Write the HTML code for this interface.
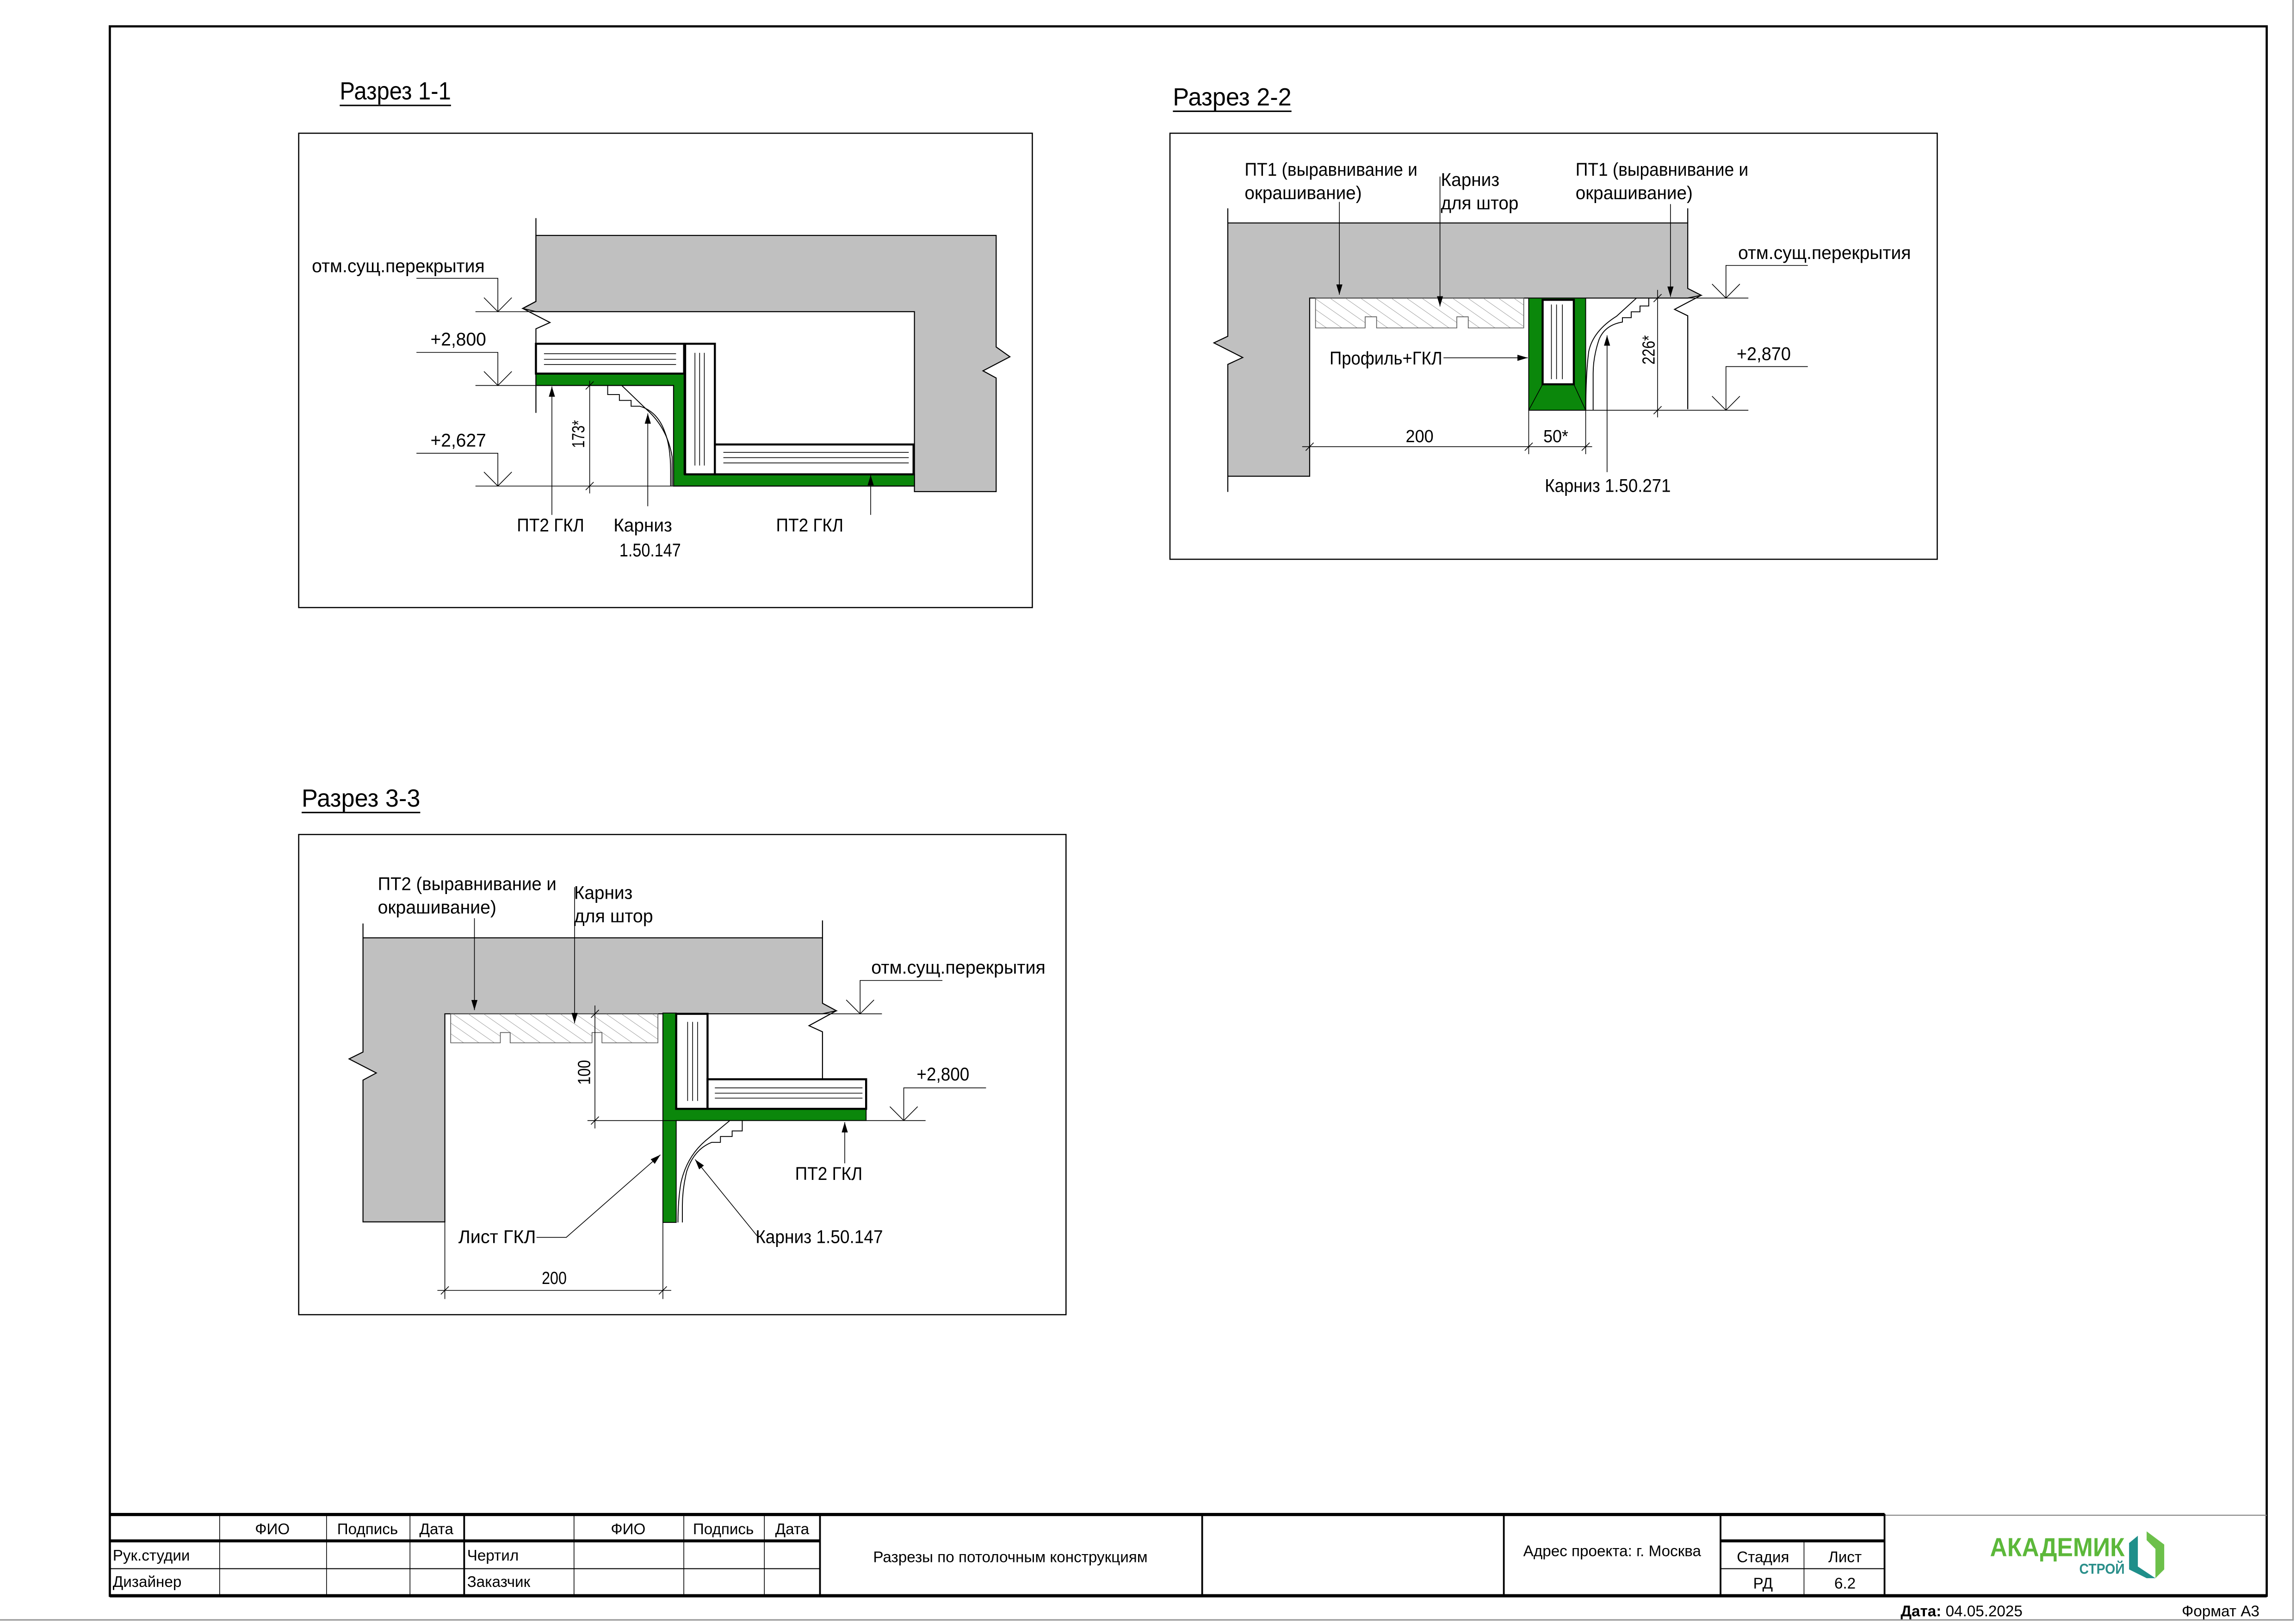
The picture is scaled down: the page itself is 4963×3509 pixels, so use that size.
<!DOCTYPE html>
<html><head><meta charset="utf-8"><style>
html,body{margin:0;padding:0;background:#fff}
svg{display:block}
text{font-family:"Liberation Sans Narrow","Liberation Sans",sans-serif;fill:#000}
</style></head><body>
<svg width="4963" height="3509" viewBox="0 0 1568 1108.6" preserveAspectRatio="none" xmlns="http://www.w3.org/2000/svg">
<defs>
<pattern id="h" patternUnits="userSpaceOnUse" width="6" height="6" patternTransform="rotate(-55)">
<line x1="0" y1="0" x2="0" y2="6" stroke="#999" stroke-width="0.6"/></pattern>
<marker id="a" viewBox="0 0 10 10" refX="10" refY="5" markerWidth="7" markerHeight="7" orient="auto" markerUnits="userSpaceOnUse"><path d="M0,2 L10,5 L0,8 z" fill="#000"/></marker>
</defs>
<rect x="0" y="0" width="1568" height="1108.6" fill="#fff"/>
<path d="M0,1106.5 H1566 V0" fill="none" stroke="#999" stroke-width="1"/>
<rect x="75" y="18" width="1473" height="1072" fill="none" stroke="#000" stroke-width="1.5"/>

<!-- ============ Section 1-1 ============ -->
<text x="232" y="68" font-size="17" textLength="76" lengthAdjust="spacingAndGlyphs">Разрез 1-1</text>
<line x1="232" y1="72" x2="308" y2="72" stroke="#000" stroke-width="1"/>
<rect x="204" y="91" width="501" height="324" fill="none" stroke="#000" stroke-width="0.8"/>
<polygon points="366,160.8 680.3,160.8 680.3,237 689.7,243.7 671.3,253.3 680.3,258.2 680.3,335.8 624.5,335.8 624.5,212.9 366,212.9 357,210.7 366,205.9" fill="#c0c0c0" stroke="#000" stroke-width="0.7"/>
<polyline points="366,149 366,205.9 357,210.7 375.6,220.3 366,224.6 366,282" fill="none" stroke="#000" stroke-width="0.7"/>
<!-- green -->
<path d="M366,255.4 H467.2 V324 H624.5 V332 H460 V263.3 H366 z" fill="#0b870b" stroke="#000" stroke-width="0.7"/>
<!-- boxes -->
<rect x="366" y="234.8" width="101.2" height="20.4" fill="#fff" stroke="#000" stroke-width="1.4"/>
<g stroke="#000" stroke-width="0.5"><line x1="371.5" y1="241.6" x2="461.7" y2="241.6"/><line x1="371.5" y1="245.4" x2="461.7" y2="245.4"/><line x1="371.5" y1="249" x2="461.7" y2="249"/></g>
<rect x="467.9" y="234.8" width="20.3" height="89.2" fill="#fff" stroke="#000" stroke-width="1.4"/>
<g stroke="#000" stroke-width="0.5"><line x1="474.6" y1="241" x2="474.6" y2="318"/><line x1="477.8" y1="241" x2="477.8" y2="318"/><line x1="481" y1="241" x2="481" y2="318"/></g>
<rect x="488.2" y="303.6" width="135.7" height="20.4" fill="#fff" stroke="#000" stroke-width="1.4"/>
<g stroke="#000" stroke-width="0.5"><line x1="494" y1="309" x2="620.6" y2="309"/><line x1="494" y1="312.6" x2="620.6" y2="312.6"/><line x1="494" y1="316.2" x2="620.6" y2="316.2"/></g>
<!-- cornice -->
<path d="M415,263.3 V269.5 H423 V273.5 H431 V277.5 H437 Q449,281 454,295 Q458,305 458,322 V332" fill="none" stroke="#000" stroke-width="0.6"/>
<path d="M424.6,263.3 L444,282 Q456,294 459,312 V332" fill="none" stroke="#000" stroke-width="0.6"/>
<!-- levels -->
<g stroke="#000" stroke-width="0.5" fill="none">
<line x1="324.7" y1="212.9" x2="366" y2="212.9"/><polyline points="284.4,190.1 340,190.1 340,212.9"/><polyline points="330.5,203.3 340,212.9 349.5,203.3"/>
<line x1="324.7" y1="263.3" x2="366" y2="263.3"/><polyline points="284.4,240.7 340,240.7 340,263.3"/><polyline points="330.5,253.7 340,263.3 349.5,253.7"/>
<line x1="324.7" y1="332" x2="460" y2="332"/><polyline points="284.4,309.6 340,309.6 340,332"/><polyline points="330.5,322.4 340,332 349.5,322.4"/>
<line x1="402.7" y1="260" x2="402.7" y2="337"/>
<line x1="400" y1="266" x2="405.4" y2="260.6"/><line x1="400" y1="334.7" x2="405.4" y2="329.3"/>
<line x1="376.9" y1="351.7" x2="376.9" y2="264" marker-end="url(#a)"/>
<line x1="442.4" y1="345.8" x2="442.4" y2="282.4" marker-end="url(#a)"/>
<line x1="594.6" y1="351.7" x2="594.6" y2="324.5" marker-end="url(#a)"/>
</g>
<text x="213" y="186" font-size="12.5" textLength="118" lengthAdjust="spacingAndGlyphs">отм.сущ.перекрытия</text>
<text x="294" y="236" font-size="12.5" textLength="38" lengthAdjust="spacingAndGlyphs">+2,800</text>
<text x="294" y="305" font-size="12.5" textLength="38" lengthAdjust="spacingAndGlyphs">+2,627</text>
<text transform="translate(399,306) rotate(-90)" font-size="12" textLength="19" lengthAdjust="spacingAndGlyphs">173*</text>
<text x="353" y="363" font-size="12.5" textLength="46" lengthAdjust="spacingAndGlyphs">ПТ2 ГКЛ</text>
<text x="419" y="363" font-size="12.5" textLength="40" lengthAdjust="spacingAndGlyphs">Карниз</text>
<text x="423" y="380" font-size="12.5" textLength="42" lengthAdjust="spacingAndGlyphs">1.50.147</text>
<text x="530" y="363" font-size="12.5" textLength="46" lengthAdjust="spacingAndGlyphs">ПТ2 ГКЛ</text>

<!-- ============ Section 2-2 ============ -->
<text x="801" y="72" font-size="17" textLength="81" lengthAdjust="spacingAndGlyphs">Разрез 2-2</text>
<line x1="801" y1="76" x2="882" y2="76" stroke="#000" stroke-width="1"/>
<rect x="799" y="91" width="524" height="291" fill="none" stroke="#000" stroke-width="0.8"/>
<polygon points="838.5,152.3 1152.6,152.3 1152.6,197 1161.8,201.7 1152.6,203.6 894.4,203.6 894.4,325.3 838.5,325.3 838.5,248.9 848.7,244.2 829,234.2 838.5,229.7" fill="#c0c0c0" stroke="#000" stroke-width="0.7"/>
<g stroke="#000" stroke-width="0.7" fill="none">
<line x1="838.5" y1="142.3" x2="838.5" y2="152.3"/><line x1="838.5" y1="325.3" x2="838.5" y2="336"/>
<line x1="1152.6" y1="142.3" x2="1152.6" y2="152.3"/>
<polyline points="1161.8,201.7 1143.6,211.3 1152.6,215.7 1152.6,279.5"/>
</g>
<path d="M898.4,203.6 H1040.6 V224 H1002.7 V216.4 H994.9 V224 H940.1 V216.4 H932.3 V224 H898.4 z" fill="url(#h)" stroke="#555" stroke-width="0.5"/>
<path d="M1044,203.6 H1082.9 V280.2 H1044 z" fill="#0b870b" stroke="#000" stroke-width="0.6"/>
<path d="M1053.5,262.5 L1044,280.2 M1074.8,262.5 L1082.9,280.2" stroke="#000" stroke-width="0.5"/>
<rect x="1053.5" y="204.8" width="21.3" height="57.7" fill="#fff" stroke="#000" stroke-width="1.4"/>
<g stroke="#000" stroke-width="0.5"><line x1="1059.5" y1="208" x2="1059.5" y2="259"/><line x1="1063" y1="208" x2="1063" y2="259"/><line x1="1067" y1="208" x2="1067" y2="259"/></g>
<path d="M1126,203.6 V209 H1120 V213 H1114 V217 H1108 V220 Q1096,222 1092,232 Q1088,244 1088,255 V280" fill="none" stroke="#000" stroke-width="0.6"/>
<path d="M1117.6,203.6 L1104,216 Q1088,226 1085,240 Q1083,255 1083,280" fill="none" stroke="#000" stroke-width="0.6"/>
<g stroke="#000" stroke-width="0.5" fill="none">
<line x1="1152.6" y1="203.6" x2="1194" y2="203.6"/><polyline points="1234.6,181.3 1178.7,181.3 1178.7,203.6"/><polyline points="1169.2,194 1178.7,203.6 1188.2,194"/>
<line x1="1082.9" y1="280.2" x2="1194" y2="280.2"/><polyline points="1234.6,250.4 1178.7,250.4 1178.7,280.2"/><polyline points="1169.2,270.6 1178.7,280.2 1188.2,270.6"/>
<line x1="1132" y1="198" x2="1132" y2="285.1"/>
<line x1="1129.3" y1="206.3" x2="1134.7" y2="200.9"/><line x1="1129.3" y1="282.9" x2="1134.7" y2="277.5"/>
<line x1="889.3" y1="305.1" x2="1087.3" y2="305.1"/>
<line x1="1044" y1="280.2" x2="1044" y2="310.2"/><line x1="1082.9" y1="280.2" x2="1082.9" y2="310.2"/>
<line x1="891.7" y1="307.8" x2="897.1" y2="302.4"/><line x1="1041.3" y1="307.8" x2="1046.7" y2="302.4"/><line x1="1080.2" y1="307.8" x2="1085.6" y2="302.4"/>
<line x1="914.7" y1="137.9" x2="914.7" y2="201.3" marker-end="url(#a)"/>
<line x1="983.4" y1="120.6" x2="983.4" y2="209.3" marker-end="url(#a)"/>
<line x1="1140.8" y1="139.4" x2="1140.8" y2="202.7" marker-end="url(#a)"/>
<line x1="985.8" y1="244.4" x2="1043.3" y2="244.4" marker-end="url(#a)"/>
<line x1="1097.5" y1="322.5" x2="1097.5" y2="229.1" marker-end="url(#a)"/>
</g>
<text x="850" y="120" font-size="12.5" textLength="118" lengthAdjust="spacingAndGlyphs">ПТ1 (выравнивание и</text>
<text x="850" y="136" font-size="12.5" textLength="80" lengthAdjust="spacingAndGlyphs">окрашивание)</text>
<text x="984" y="127" font-size="12.5" textLength="40" lengthAdjust="spacingAndGlyphs">Карниз</text>
<text x="984" y="143" font-size="12.5" textLength="53" lengthAdjust="spacingAndGlyphs">для штор</text>
<text x="1076" y="120" font-size="12.5" textLength="118" lengthAdjust="spacingAndGlyphs">ПТ1 (выравнивание и</text>
<text x="1076" y="136" font-size="12.5" textLength="80" lengthAdjust="spacingAndGlyphs">окрашивание)</text>
<text x="1187" y="177" font-size="12.5" textLength="118" lengthAdjust="spacingAndGlyphs">отм.сущ.перекрытия</text>
<text x="1186" y="246" font-size="12.5" textLength="37" lengthAdjust="spacingAndGlyphs">+2,870</text>
<text x="908" y="249" font-size="12.5" textLength="77" lengthAdjust="spacingAndGlyphs">Профиль+ГКЛ</text>
<text transform="translate(1130,249) rotate(-90)" font-size="12" textLength="20" lengthAdjust="spacingAndGlyphs">226*</text>
<text x="960" y="302" font-size="12" textLength="19" lengthAdjust="spacingAndGlyphs">200</text>
<text x="1054" y="302" font-size="12" textLength="17" lengthAdjust="spacingAndGlyphs">50*</text>
<text x="1055" y="336" font-size="12.5" textLength="86" lengthAdjust="spacingAndGlyphs">Карниз 1.50.271</text>

<!-- ============ Section 3-3 ============ -->
<text x="206" y="551" font-size="17" textLength="81" lengthAdjust="spacingAndGlyphs">Разрез 3-3</text>
<line x1="206" y1="555" x2="287" y2="555" stroke="#000" stroke-width="1"/>
<rect x="204" y="570" width="524" height="328" fill="none" stroke="#000" stroke-width="0.8"/>
<polygon points="247.9,640.6 561.7,640.6 561.7,685.3 571.2,690.4 561.7,692.5 303.8,692.5 303.8,834.6 247.9,834.6 247.9,737.8 257,732.9 238.4,723.3 247.9,718.6" fill="#c0c0c0" stroke="#000" stroke-width="0.7"/>
<g stroke="#000" stroke-width="0.7" fill="none">
<line x1="247.9" y1="630.8" x2="247.9" y2="640.6"/><line x1="561.7" y1="628.7" x2="561.7" y2="640.6"/>
<polyline points="571.2,690.4 552.5,700.6 561.7,704.8 561.7,757.6"/>
</g>
<path d="M307.8,692.5 H449.3 V712.3 H411.1 V705.3 H404.3 V712.3 H348.4 V705.3 H341.7 V712.3 H307.8 z" fill="url(#h)" stroke="#555" stroke-width="0.5"/>
<path d="M452.7,692 H461.8 V757.4 H591.5 V765.4 H461.8 V835 H452.7 z" fill="#0b870b" stroke="#000" stroke-width="0.6"/>
<rect x="461.8" y="692.5" width="21.4" height="64.9" fill="#fff" stroke="#000" stroke-width="1.4"/>
<g stroke="#000" stroke-width="0.5"><line x1="469.6" y1="698" x2="469.6" y2="752"/><line x1="473" y1="698" x2="473" y2="752"/><line x1="476.4" y1="698" x2="476.4" y2="752"/></g>
<rect x="483.2" y="737.2" width="108.3" height="20.2" fill="#fff" stroke="#000" stroke-width="1.4"/>
<g stroke="#000" stroke-width="0.5"><line x1="488.2" y1="743.1" x2="589" y2="743.1"/><line x1="488.2" y1="746.7" x2="589" y2="746.7"/><line x1="488.2" y1="750.1" x2="589" y2="750.1"/></g>
<path d="M506.9,765.4 V772.5 H500 V776.3 H492 V780.3 H486 Q474,785 469,800 Q466,812 466,824 V835" fill="none" stroke="#000" stroke-width="0.6"/>
<path d="M498.4,765.4 L482,779 Q469,790 465,808 Q463,820 463,835" fill="none" stroke="#000" stroke-width="0.6"/>
<g stroke="#000" stroke-width="0.5" fill="none">
<line x1="561.7" y1="692.5" x2="602.3" y2="692.5"/><polyline points="643.6,669.7 587.4,669.7 587.4,692.5"/><polyline points="577.9,683 587.4,692.5 596.9,683"/>
<line x1="401.2" y1="765.4" x2="632.1" y2="765.4"/><polyline points="673.4,743.1 617.2,743.1 617.2,765.4"/><polyline points="607.7,755.9 617.2,765.4 626.7,755.9"/>
<line x1="406.3" y1="686.8" x2="406.3" y2="770.8"/>
<line x1="403.6" y1="695.2" x2="409" y2="689.8"/><line x1="403.6" y1="768.1" x2="409" y2="762.7"/>
<line x1="303.8" y1="834.6" x2="303.8" y2="887.3"/><line x1="452.7" y1="835" x2="452.7" y2="887.3"/>
<line x1="298.7" y1="881.4" x2="458.4" y2="881.4"/>
<line x1="301.1" y1="884.1" x2="306.5" y2="878.7"/><line x1="450" y1="884.1" x2="455.4" y2="878.7"/>
<line x1="324" y1="627.2" x2="324" y2="690" marker-end="url(#a)"/>
<line x1="392.4" y1="606" x2="392.4" y2="698.9" marker-end="url(#a)"/>
<polyline points="366.4,845.2 386.7,845.2 451,788.8" marker-end="url(#a)"/>
<polyline points="517,844.1 474.7,792" marker-end="url(#a)"/>
<line x1="576.9" y1="794.6" x2="576.9" y2="766.5" marker-end="url(#a)"/>
</g>
<text x="258" y="608" font-size="12.5" textLength="122" lengthAdjust="spacingAndGlyphs">ПТ2 (выравнивание и</text>
<text x="258" y="624" font-size="12.5" textLength="81" lengthAdjust="spacingAndGlyphs">окрашивание)</text>
<text x="392" y="614" font-size="12.5" textLength="40" lengthAdjust="spacingAndGlyphs">Карниз</text>
<text x="392" y="630" font-size="12.5" textLength="54" lengthAdjust="spacingAndGlyphs">для штор</text>
<text x="595" y="665" font-size="12.5" textLength="119" lengthAdjust="spacingAndGlyphs">отм.сущ.перекрытия</text>
<text x="626" y="738" font-size="12.5" textLength="36" lengthAdjust="spacingAndGlyphs">+2,800</text>
<text transform="translate(403,741) rotate(-90)" font-size="12" textLength="17" lengthAdjust="spacingAndGlyphs">100</text>
<text x="370" y="877" font-size="12" textLength="17" lengthAdjust="spacingAndGlyphs">200</text>
<text x="313" y="849" font-size="12.5" textLength="53" lengthAdjust="spacingAndGlyphs">Лист ГКЛ</text>
<text x="516" y="849" font-size="12.5" textLength="87" lengthAdjust="spacingAndGlyphs">Карниз 1.50.147</text>
<text x="543" y="806" font-size="12.5" textLength="46" lengthAdjust="spacingAndGlyphs">ПТ2 ГКЛ</text>

<!-- ============ Title block ============ -->
<g stroke="#000" fill="none">
<line x1="75" y1="1034.5" x2="1287" y2="1034.5" stroke-width="2.2"/>
<line x1="1287" y1="1035" x2="1548" y2="1035" stroke="#888" stroke-width="0.7"/>
<line x1="75" y1="1090" x2="1548" y2="1090" stroke-width="2.2"/>
<line x1="75" y1="1052.5" x2="560" y2="1052.5" stroke-width="2"/>
<line x1="1175" y1="1052.5" x2="1287" y2="1052.5" stroke-width="2"/>
<line x1="75" y1="1071.5" x2="560" y2="1071.5" stroke-width="0.7"/>
<line x1="1175" y1="1071.5" x2="1287" y2="1071.5" stroke-width="0.7"/>
<g stroke-width="0.5"><line x1="150" y1="1034" x2="150" y2="1090"/><line x1="223" y1="1034" x2="223" y2="1090"/><line x1="280" y1="1034" x2="280" y2="1090"/><line x1="392" y1="1034" x2="392" y2="1090"/><line x1="467" y1="1034" x2="467" y2="1090"/><line x1="522" y1="1034" x2="522" y2="1090"/><line x1="1232" y1="1052" x2="1232" y2="1090"/></g>
<g stroke-width="1.2"><line x1="317" y1="1034" x2="317" y2="1090"/><line x1="560" y1="1034" x2="560" y2="1090"/><line x1="821" y1="1034" x2="821" y2="1090"/><line x1="1027" y1="1034" x2="1027" y2="1090"/><line x1="1175" y1="1034" x2="1175" y2="1090"/><line x1="1287" y1="1034" x2="1287" y2="1090"/></g>
</g>
<g font-size="10.5" text-anchor="middle">
<text x="186" y="1048">ФИО</text><text x="251" y="1048">Подпись</text><text x="298" y="1048">Дата</text>
<text x="429" y="1048">ФИО</text><text x="494" y="1048">Подпись</text><text x="541" y="1048">Дата</text>
<text x="690" y="1067">Разрезы по потолочным конструкциям</text>
<text x="1101" y="1063">Адрес проекта: г. Москва</text>
<text x="1204" y="1067">Стадия</text><text x="1260" y="1067">Лист</text>
<text x="1204" y="1085">РД</text><text x="1260" y="1085">6.2</text>
</g>
<g font-size="10.5">
<text x="77" y="1066">Рук.студии</text><text x="77" y="1084">Дизайнер</text>
<text x="319" y="1066">Чертил</text><text x="319" y="1084">Заказчик</text>
<text x="1298" y="1104" font-weight="bold">Дата: <tspan font-weight="normal">04.05.2025</tspan></text>
<text x="1490" y="1104">Формат А3</text>
</g>
<!-- logo -->
<text x="1359" y="1063" font-family="Liberation Sans, sans-serif" font-size="18" font-weight="bold" fill="#5cb83a" style="fill:#5cb83a" textLength="92" lengthAdjust="spacingAndGlyphs">АКАДЕМИК</text>
<text x="1420" y="1075" font-family="Liberation Sans, sans-serif" font-size="10" font-weight="bold" style="fill:#2a8f8a" textLength="31" lengthAdjust="spacingAndGlyphs">СТРОЙ</text>
<polygon points="1466,1046 1478,1055 1478,1072 1472,1078 1472,1058 1466,1052" fill="#6cc04a"/>
<polygon points="1454,1054 1460,1049 1460,1070 1472,1078 1466,1078 1454,1072" fill="#1f8f8a"/>
</svg>
</body></html>
